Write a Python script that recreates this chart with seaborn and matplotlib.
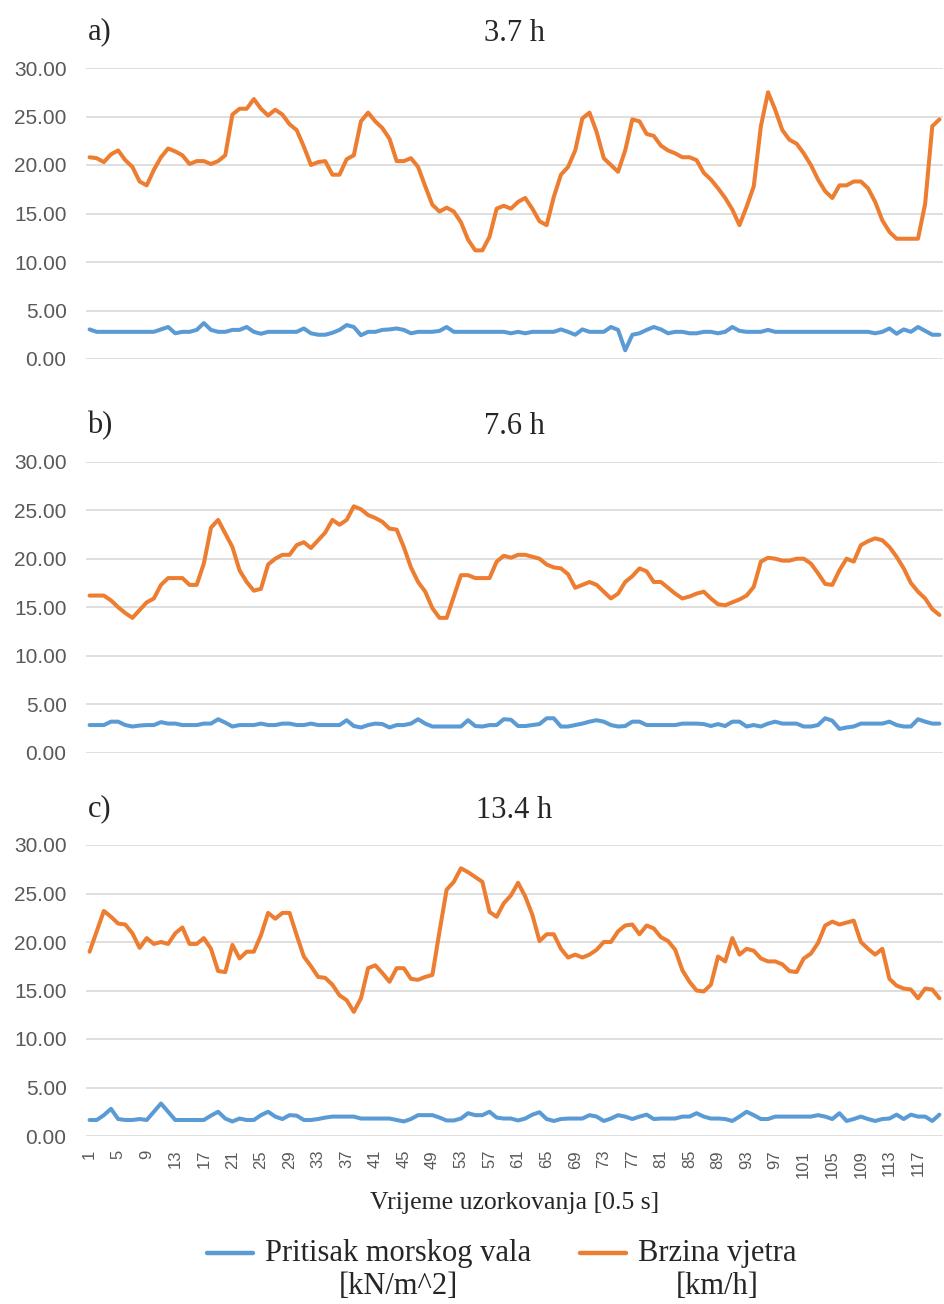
import matplotlib
matplotlib.use("Agg")
import matplotlib.pyplot as plt
import numpy as np
import pandas as pd
import seaborn as sns
from matplotlib.legend_handler import HandlerLine2D

# sample index (0.5 s steps)
samples = list(range(1, 121))

# panel a) 3.7 h
wind_a = [20.8, 20.7, 20.3, 21.1, 21.5, 20.5, 19.8, 18.3, 17.9, 19.5,
          20.8, 21.7, 21.4, 21.0, 20.1, 20.4, 20.4, 20.1, 20.4, 21.0,
          25.2, 25.8, 25.8, 26.8, 25.8, 25.1, 25.7, 25.2, 24.2, 23.6,
          21.9, 20.0, 20.3, 20.4, 19.0, 19.0, 20.6, 21.0, 24.5, 25.4,
          24.5, 23.8, 22.7, 20.4, 20.4, 20.7, 19.8, 17.8, 15.9, 15.2,
          15.6, 15.2, 14.1, 12.3, 11.2, 11.2, 12.6, 15.5, 15.8, 15.5,
          16.2, 16.6, 15.5, 14.2, 13.8, 16.7, 19.0, 19.8, 21.5, 24.8,
          25.4, 23.4, 20.7, 20.0, 19.3, 21.5, 24.7, 24.5, 23.2, 23.0,
          22.0, 21.5, 21.2, 20.8, 20.8, 20.5, 19.2, 18.5, 17.6, 16.6,
          15.4, 13.8, 15.7, 17.8, 24.0, 27.5, 25.7, 23.6, 22.6, 22.2,
          21.2, 20.0, 18.5, 17.3, 16.6, 17.9, 17.9, 18.3, 18.3, 17.6,
          16.2, 14.3, 13.1, 12.4, 12.4, 12.4, 12.4, 16.0, 24.0, 24.7]
wave_a = [3.05, 2.8, 2.8, 2.8, 2.8, 2.8, 2.8, 2.8, 2.8, 2.8,
          3.05, 3.3, 2.65, 2.8, 2.8, 3.0, 3.7, 3.0, 2.8, 2.8,
          3.0, 3.0, 3.3, 2.8, 2.6, 2.8, 2.8, 2.8, 2.8, 2.8,
          3.15, 2.65, 2.5, 2.5, 2.7, 3.0, 3.5, 3.3, 2.45, 2.8,
          2.8, 3.0, 3.05, 3.15, 3.0, 2.65, 2.8, 2.8, 2.8, 2.9,
          3.3, 2.8, 2.8, 2.8, 2.8, 2.8, 2.8, 2.8, 2.8, 2.65,
          2.8, 2.65, 2.8, 2.8, 2.8, 2.8, 3.05, 2.8, 2.5, 3.05,
          2.8, 2.8, 2.8, 3.3, 3.0, 0.9, 2.5, 2.65, 3.0, 3.3,
          3.05, 2.65, 2.8, 2.8, 2.65, 2.65, 2.8, 2.8, 2.65, 2.8,
          3.3, 2.9, 2.8, 2.8, 2.8, 3.0, 2.8, 2.8, 2.8, 2.8,
          2.8, 2.8, 2.8, 2.8, 2.8, 2.8, 2.8, 2.8, 2.8, 2.8,
          2.65, 2.8, 3.15, 2.6, 3.05, 2.8, 3.3, 2.9, 2.5, 2.5]

# panel b) 7.6 h
wind_b = [16.2, 16.2, 16.2, 15.7, 15.0, 14.4, 13.9, 14.7, 15.5, 15.9,
          17.3, 18.0, 18.0, 18.0, 17.3, 17.3, 19.5, 23.2, 24.0, 22.6,
          21.2, 18.8, 17.6, 16.7, 16.9, 19.4, 20.0, 20.4, 20.4, 21.4,
          21.7, 21.1, 21.9, 22.7, 24.0, 23.5, 24.0, 25.4, 25.1, 24.5,
          24.2, 23.8, 23.1, 23.0, 21.2, 19.1, 17.6, 16.6, 14.9, 13.9,
          13.9, 16.1, 18.3, 18.3, 18.0, 18.0, 18.0, 19.7, 20.3, 20.1,
          20.4, 20.4, 20.2, 20.0, 19.4, 19.1, 19.0, 18.4, 17.0, 17.3,
          17.6, 17.3, 16.6, 15.9, 16.4, 17.6, 18.2, 19.0, 18.7, 17.6,
          17.6, 17.0, 16.4, 15.9, 16.1, 16.4, 16.6, 15.9, 15.3, 15.2,
          15.5, 15.8, 16.2, 17.1, 19.7, 20.1, 20.0, 19.8, 19.8, 20.0,
          20.0, 19.5, 18.5, 17.4, 17.3, 18.8, 20.0, 19.7, 21.4, 21.8,
          22.1, 21.9, 21.2, 20.2, 19.0, 17.5, 16.6, 15.9, 14.8, 14.2]
wave_b = [2.85, 2.85, 2.85, 3.2, 3.2, 2.85, 2.7, 2.8, 2.85, 2.85,
          3.15, 3.0, 3.0, 2.85, 2.85, 2.85, 3.0, 3.0, 3.45, 3.1,
          2.7, 2.85, 2.85, 2.85, 3.0, 2.85, 2.85, 3.0, 3.0, 2.85,
          2.85, 3.0, 2.85, 2.85, 2.85, 2.85, 3.35, 2.75, 2.6, 2.85,
          3.0, 2.95, 2.6, 2.85, 2.85, 3.0, 3.45, 3.0, 2.7, 2.7,
          2.7, 2.7, 2.7, 3.35, 2.75, 2.7, 2.85, 2.85, 3.45, 3.4,
          2.75, 2.75, 2.85, 2.95, 3.55, 3.55, 2.7, 2.7, 2.85, 3.0,
          3.2, 3.35, 3.2, 2.85, 2.7, 2.75, 3.2, 3.2, 2.85, 2.85,
          2.85, 2.85, 2.85, 3.0, 3.0, 3.0, 2.95, 2.75, 2.95, 2.75,
          3.2, 3.2, 2.7, 2.85, 2.7, 3.0, 3.2, 3.0, 3.0, 3.0,
          2.7, 2.7, 2.85, 3.55, 3.3, 2.45, 2.6, 2.7, 3.0, 3.0,
          3.0, 3.0, 3.2, 2.85, 2.7, 2.7, 3.45, 3.2, 3.0, 3.0]

# panel c) 13.4 h
wind_c = [19.0, 21.1, 23.2, 22.6, 21.9, 21.8, 20.9, 19.4, 20.4, 19.8,
          20.0, 19.8, 20.9, 21.5, 19.8, 19.8, 20.4, 19.3, 17.0, 16.9,
          19.7, 18.3, 19.0, 19.0, 20.7, 23.0, 22.4, 23.0, 23.0, 20.7,
          18.5, 17.5, 16.4, 16.3, 15.6, 14.5, 14.0, 12.8, 14.2, 17.3,
          17.6, 16.8, 15.9, 17.3, 17.3, 16.2, 16.1, 16.4, 16.6, 21.1,
          25.4, 26.2, 27.6, 27.2, 26.7, 26.2, 23.1, 22.6, 24.0, 24.8,
          26.1, 24.7, 22.8, 20.1, 20.8, 20.8, 19.3, 18.4, 18.7, 18.4,
          18.7, 19.2, 20.0, 20.0, 21.1, 21.7, 21.8, 20.8, 21.7, 21.4,
          20.5, 20.1, 19.2, 17.1, 15.9, 15.0, 14.9, 15.6, 18.5, 18.0,
          20.4, 18.7, 19.3, 19.1, 18.3, 18.0, 18.0, 17.7, 17.0, 16.9,
          18.3, 18.8, 19.9, 21.7, 22.1, 21.8, 22.0, 22.2, 20.0, 19.3,
          18.7, 19.3, 16.2, 15.5, 15.2, 15.1, 14.2, 15.2, 15.1, 14.2]
wave_c = [1.65, 1.65, 2.15, 2.8, 1.75, 1.65, 1.65, 1.75, 1.65, 2.5,
          3.35, 2.5, 1.65, 1.65, 1.65, 1.65, 1.65, 2.1, 2.5, 1.8,
          1.5, 1.8, 1.65, 1.65, 2.15, 2.5, 2.0, 1.75, 2.15, 2.1,
          1.65, 1.65, 1.75, 1.9, 2.0, 2.0, 2.0, 2.0, 1.8, 1.8,
          1.8, 1.8, 1.8, 1.65, 1.5, 1.75, 2.15, 2.15, 2.15, 1.9,
          1.6, 1.6, 1.8, 2.35, 2.15, 2.15, 2.5, 1.9, 1.8, 1.8,
          1.6, 1.8, 2.2, 2.45, 1.75, 1.55, 1.75, 1.8, 1.8, 1.8,
          2.15, 2.0, 1.55, 1.8, 2.15, 2.0, 1.75, 2.0, 2.2, 1.75,
          1.8, 1.8, 1.8, 2.0, 2.0, 2.35, 2.0, 1.8, 1.8, 1.75,
          1.55, 2.0, 2.5, 2.15, 1.75, 1.75, 2.0, 2.0, 2.0, 2.0,
          2.0, 2.0, 2.15, 2.0, 1.75, 2.35, 1.55, 1.75, 2.0, 1.75,
          1.55, 1.75, 1.8, 2.2, 1.75, 2.2, 2.0, 2.0, 1.55, 2.2]

panel_tags = ["a)", "b)", "c)"]
panel_titles = ["3.7 h", "7.6 h", "13.4 h"]
series_names = ["Pritisak morskog vala\n[kN/m^2]", "Brzina vjetra\n[km/h]"]
y_ticks = [0, 5, 10, 15, 20, 25, 30]
x_ticks = list(range(1, 121, 4))

wave_all = [wave_a, wave_b, wave_c]
wind_all = [wind_a, wind_b, wind_c]

rows = []
for p in range(3):
    for s, w, v in zip(samples, wave_all[p], wind_all[p]):
        rows.append({"panel": p, "sample": s, "series": series_names[0], "value": w})
        rows.append({"panel": p, "sample": s, "series": series_names[1], "value": v})
df = pd.DataFrame(rows)

sns.set_theme(style="white")
plt.rcParams["font.family"] = ["Liberation Sans", "DejaVu Sans"]
serif = ["Liberation Serif", "DejaVu Serif"]
palette = {series_names[0]: "#5B9BD5", series_names[1]: "#ED7D31"}

fig = plt.figure(figsize=(9.44, 13.04), dpi=100)
left, width = 86 / 944, 857 / 944
bottoms = [1 - 359 / 1304, 1 - 752.7 / 1304, 1 - 1136 / 1304]
height = 291 / 1304

axes = []
for p in range(3):
    ax = fig.add_axes([left, bottoms[p], width, height])
    sns.lineplot(data=df[df["panel"] == p], x="sample", y="value", hue="series",
                 hue_order=series_names, palette=palette, linewidth=2.9,
                 legend=False, ax=ax, clip_on=False)
    ax.set_xlim(0.5, 120.5)
    ax.set_ylim(0, 30)
    ax.set_yticks(y_ticks)
    ax.set_yticklabels([f"{t:.2f}" for t in y_ticks], fontsize=15, color="#595959")
    ax.yaxis.grid(True, color="#D9D9D9", linewidth=1.2)
    ax.set_axisbelow(True)
    for sp in ax.spines.values():
        sp.set_visible(False)
    ax.tick_params(axis="y", length=0, pad=14)
    ax.set_ylabel("")
    ax.set_xlabel("")
    if p < 2:
        ax.set_xticks([])
    else:
        ax.set_xticks(x_ticks)
        ax.set_xticklabels([str(t) for t in x_ticks], rotation=90, fontsize=12,
                           color="#595959", va="top")
        ax.tick_params(axis="x", length=0, pad=10)
        ax.set_xlabel("Vrijeme uzorkovanja [0.5 s]", fontsize=18.5, family=serif, labelpad=10)
    ax.text(0.016, 1.125, panel_tags[p], transform=ax.transAxes, fontsize=22,
            family=serif, ha="center", va="center")
    ax.text(0.5, 1.12, panel_titles[p], transform=ax.transAxes, fontsize=22,
            family=serif, ha="center", va="center")
    axes.append(ax)


class FirstLineHandler(HandlerLine2D):
    # put the legend line next to the first text line, as in Excel
    def create_artists(self, legend, orig_handle, xdescent, ydescent, width, height, fontsize, trans):
        arts = super().create_artists(legend, orig_handle, xdescent, ydescent, width, height, fontsize, trans)
        for a in arts:
            a.set_ydata(np.asarray(a.get_ydata()) + 0.575 * fontsize)
        return arts


handles = axes[2].get_lines()[:2]
leg = fig.legend(handles, series_names, loc="center", bbox_to_anchor=(502 / 944, 1 - 1270 / 1304),
                 ncol=2, frameon=False, prop={"family": serif, "size": 22},
                 handlelength=1.5, handletextpad=0.4, columnspacing=1.6,
                 handler_map={h: FirstLineHandler() for h in handles})
for t in leg.get_texts():
    t.set_multialignment("center")
    t.set_linespacing(1.15)
for h in leg.legend_handles:
    h.set_linewidth(3.2)

plt.savefig("out.png", dpi=100)
